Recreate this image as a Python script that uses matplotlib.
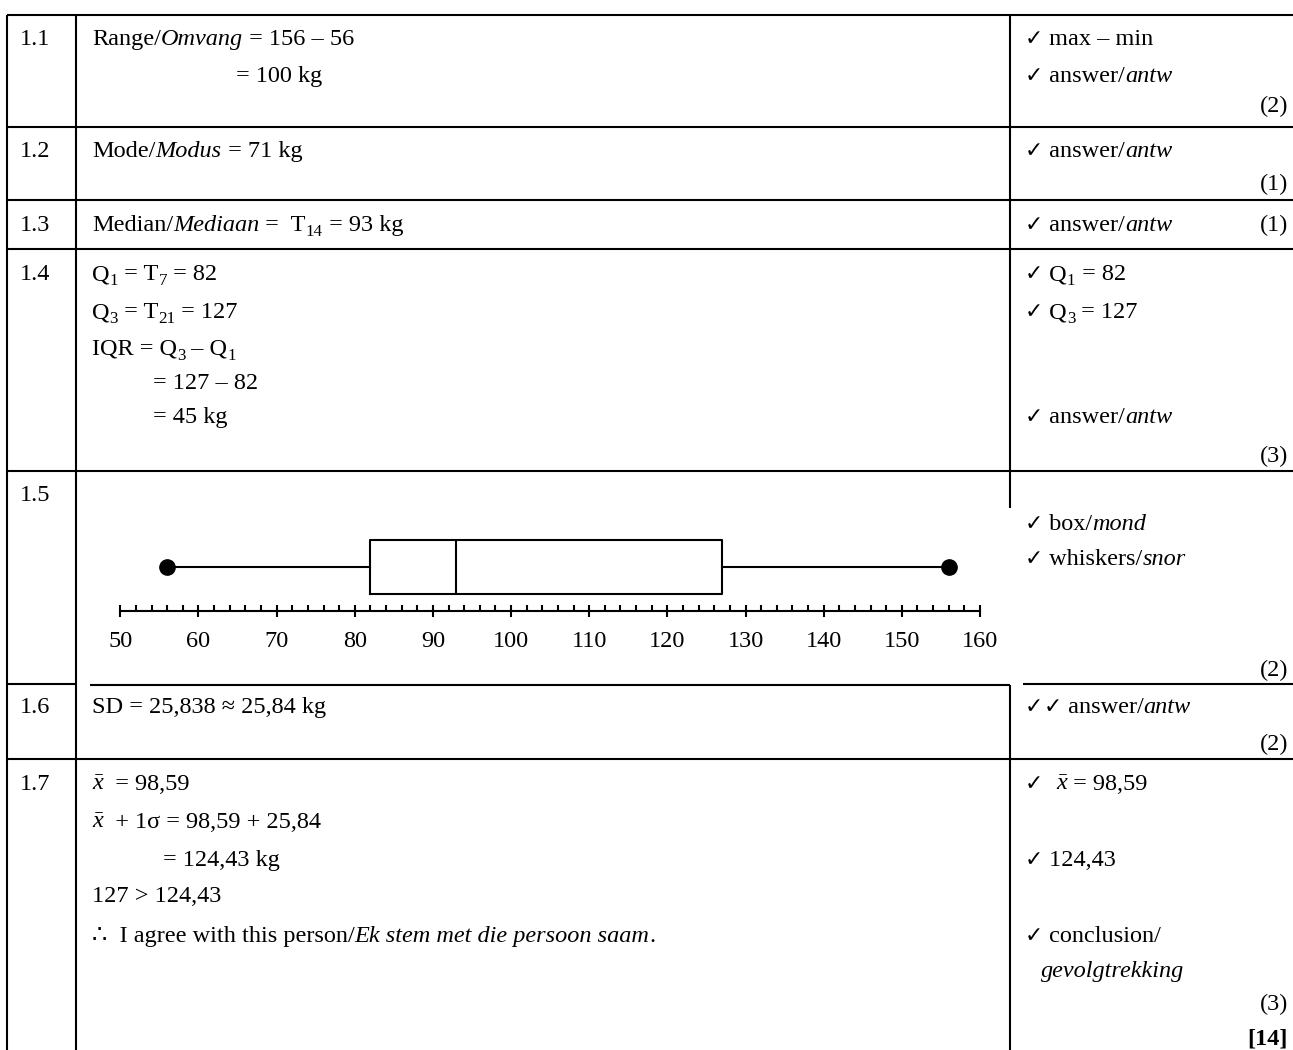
import matplotlib
matplotlib.use('Agg')
import matplotlib.pyplot as plt
from matplotlib.ticker import MultipleLocator

W, H = 1293, 1050
SERIF = ['Liberation Serif', 'DejaVu Sans']
FS = 17.5
LW = 1.5

plt.rcParams['mathtext.fontset'] = 'custom'
plt.rcParams['mathtext.rm'] = 'Liberation Serif'
plt.rcParams['mathtext.it'] = 'Liberation Serif:italic'

# five-number summary for the box plot (kg)
bp_min, bp_q1, bp_med, bp_q3, bp_max = 56, 82, 93, 127, 156
axis_ticks = list(range(50, 161, 10))

question_nums = ['1.1', '1.2', '1.3', '1.4', '1.5', '1.6', '1.7']
question_base = [45, 157, 231, 280, 501, 713, 790]

# (x, baseline, runs) - runs are (text, style)
XBAR = r'$\bar{x}$'
CHK = ('✓', 'chk')
answer_lines = [
    (92, 45, [('Range/', 'n'), ('Omvang', 'i'), (' = 156 – 56', 'n')]),
    (236, 82, [('= 100 kg', 'n')]),
    (92, 157, [('Mode/', 'n'), ('Modus', 'i'), (' = 71 kg', 'n')]),
    (92, 231, [('Median/', 'n'), ('Mediaan', 'i'), (' =  T', 'n'), ('14', 'sub'), (' = 93 kg', 'n')]),
    (92, 280, [('Q', 'n'), ('1', 'sub'), (' = T', 'n'), ('7', 'sub'), (' = 82', 'n')]),
    (92, 318, [('Q', 'n'), ('3', 'sub'), (' = T', 'n'), ('21', 'sub'), (' = 127', 'n')]),
    (92, 355, [('IQR = Q', 'n'), ('3', 'sub'), (' – Q', 'n'), ('1', 'sub')]),
    (153, 389, [('= 127 – 82', 'n')]),
    (153, 423, [('= 45 kg', 'n')]),
    (92, 713, [('SD = 25,838 ≈ 25,84 kg', 'n')]),
    (92, 790, [(XBAR, 'm'), ('  = 98,59', 'n')]),
    (92, 828, [(XBAR, 'm'), ('  + 1σ = 98,59 + 25,84', 'n')]),
    (163, 866, [('= 124,43 kg', 'n')]),
    (92, 902, [('127 > 124,43', 'n')]),
    (92, 942, [('∴  I agree with this person/', 'n'), ('Ek stem met die persoon saam', 'i'), ('.', 'n')]),
]

mark_lines = [
    (1025, 45, [CHK, (' max – min', 'n')]),
    (1025, 82, [CHK, (' answer/', 'n'), ('antw', 'i')]),
    (1025, 157, [CHK, (' answer/', 'n'), ('antw', 'i')]),
    (1025, 231, [CHK, (' answer/', 'n'), ('antw', 'i')]),
    (1025, 280, [CHK, (' Q', 'n'), ('1', 'sub'), (' = 82', 'n')]),
    (1025, 318, [CHK, (' Q', 'n'), ('3', 'sub'), (' = 127', 'n')]),
    (1025, 423, [CHK, (' answer/', 'n'), ('antw', 'i')]),
    (1025, 530, [CHK, (' box/', 'n'), ('mond', 'i')]),
    (1025, 565, [CHK, (' whiskers/', 'n'), ('snor', 'i')]),
    (1025, 713, [CHK, CHK, (' answer/', 'n'), ('antw', 'i')]),
    (1025, 790, [CHK, ('  ', 'n'), (XBAR, 'm'), (' = 98,59', 'n')]),
    (1025, 866, [CHK, (' 124,43', 'n')]),
    (1025, 942, [CHK, (' conclusion/', 'n')]),
    (1041, 977, [('gevolgtrekking', 'i')]),
]

mark_totals = ['(2)', '(1)', '(1)', '(3)', '(2)', '(2)', '(3)', '[14]']
total_base = [112, 190, 231, 462, 676, 750, 1010, 1045]

# table rules
h_rules = [(15, 7, W), (127, 7, W), (200, 7, W), (249, 7, W), (471, 7, W),
           (684, 7, 76), (685, 90, 1010), (684, 1023, W), (759, 7, W)]
v_rules = [(7, 15, H), (76, 15, H), (1010, 15, 508), (1010, 685, H)]

fig = plt.figure(figsize=(W / 100, H / 100), dpi=100)
ax = fig.add_axes([0, 0, 1, 1])
ax.set_xlim(0, W)
ax.set_ylim(H, 0)
ax.axis('off')

for y, x0, x1 in h_rules:
    ax.plot([x0, x1], [y, y], color='black', lw=LW, solid_capstyle='butt')
for x, y0, y1 in v_rules:
    ax.plot([x, x], [y0, y1], color='black', lw=LW, solid_capstyle='butt')

fig.canvas.draw()
rend = fig.canvas.get_renderer()


def style_kw(st):
    kw = dict(fontsize=FS, family=SERIF, va='baseline', color='black')
    if st == 'i':
        kw['style'] = 'italic'
    elif st == 'b':
        kw['weight'] = 'bold'
    elif st == 'sub':
        kw['fontsize'] = FS * 0.7
    elif st == 'chk':
        kw['fontsize'] = FS * 0.9
        kw['family'] = ['DejaVu Sans']
    return kw


def text_width(s, kw):
    t = ax.text(0, 0, s + '|', **kw)
    w1 = t.get_window_extent(rend).width
    t.set_text('|')
    w2 = t.get_window_extent(rend).width
    t.remove()
    return w1 - w2


def draw_runs(x, y, runs):
    for s, st in runs:
        kw = style_kw(st)
        dy = 5 if st == 'sub' else 0
        ax.text(x, y + dy, s, **kw)
        x += text_width(s, kw)


for num, yb in zip(question_nums, question_base):
    ax.text(20, yb, num, **style_kw('n'))

for x, y, runs in answer_lines + mark_lines:
    draw_runs(x, y, runs)

for lab, yb in zip(mark_totals, total_base):
    kw = style_kw('b' if lab.startswith('[') else 'n')
    ax.text(1288, yb, lab, ha='right', **kw)

# box and whisker diagram
bx = fig.add_axes([120.3 / W, 1 - 611 / H, 859.7 / W, 91 / H])
stats = [{'med': bp_med, 'q1': bp_q1, 'q3': bp_q3,
          'whislo': bp_min, 'whishi': bp_max, 'fliers': []}]
bx.bxp(stats, positions=[44], widths=54, orientation='horizontal',
       showcaps=False, showfliers=False,
       boxprops=dict(color='black', lw=LW),
       whiskerprops=dict(color='black', lw=LW),
       medianprops=dict(color='black', lw=LW))
bx.plot([bp_min, bp_max], [44, 44], 'o', color='black', ms=11)
bx.set_xlim(axis_ticks[0], axis_ticks[-1])
bx.set_ylim(0, 91)
bx.set_facecolor('none')
for side in ['top', 'left', 'right']:
    bx.spines[side].set_visible(False)
bx.spines['bottom'].set_linewidth(LW)
bx.set_yticks([])
bx.set_xticks(axis_ticks)
bx.set_xticklabels([str(v) for v in axis_ticks])
bx.xaxis.set_minor_locator(MultipleLocator(2))
bx.tick_params(axis='x', which='major', direction='inout', length=8.6, width=LW, pad=10,
               labelsize=FS)
bx.tick_params(axis='x', which='minor', direction='in', length=4.3, width=LW)
for lab in bx.get_xticklabels():
    lab.set_family('Liberation Serif')

fig.savefig('out.png', dpi=100, facecolor='white')
